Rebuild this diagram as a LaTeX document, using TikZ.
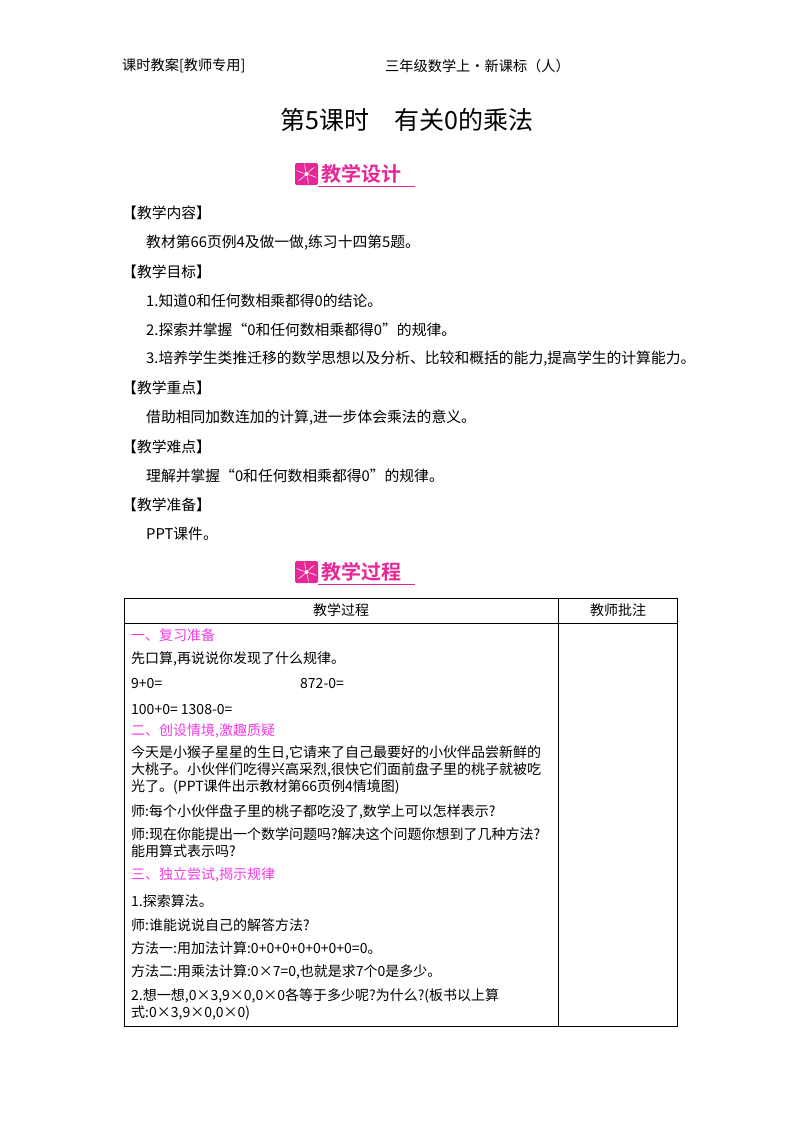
\documentclass[tikz,border=0pt]{standalone}
\usepackage{fontspec}
\setmainfont{Liberation Serif}
\newfontfamily\cjk{Noto Sans CJK SC}
\newfontfamily\cjkb{Noto Sans CJK SC Bold}
\definecolor{mag}{RGB}{230,40,150}
\definecolor{pink}{RGB}{240,60,230}
\begin{document}
\begin{tikzpicture}[x=1pt,y=-1pt,
  t/.style={anchor=west,inner sep=0pt,font=\fontsize{14.8}{20}\selectfont\cjk},
  tt/.style={anchor=west,inner sep=0pt,font=\fontsize{14}{17}\selectfont\cjk},
  h/.style={tt,text=pink},
  badge/.style={anchor=west,inner sep=0pt,font=\fontsize{20}{22}\selectfont\cjkb,text=mag}]
\useasboundingbox (0,0) rectangle (800,1132);
\node[t,font=\fontsize{14.2}{16}\selectfont\cjk] (h1) at (122,66) {课时教案[教师专用]};
\node[t,font=\fontsize{14.2}{16}\selectfont\cjk] (h2) at (385,66) {三年级数学上·新课标（人）};
\node[inner sep=0pt,font=\fontsize{25}{28}\selectfont\cjk] (title) at (407,120) {第5课时\quad 有关0的乘法};
% badges
\foreach \y/\txt/\n in {174/教学设计/b1,572/教学过程/b2}{
  \fill[mag,rounded corners=2pt] (295,\y-11) rectangle (318,\y+11);
  \foreach \a in {0,60,...,300}
    \fill[white,rotate around={\a:(306.5,\y)}] (306.5,\y) .. controls (309,\y-3) and (312,\y-6) .. (315,\y-7) .. controls (311,\y-3) .. (306.5,\y);
  \fill[white] (306.5,\y) circle (2);
  \node[badge] (\n) at (321,\y) {\txt};
  \draw[mag,line width=1pt] (318,\y+12) -- (415,\y+12);
}
\node[t] (s1) at (122,213) {【教学内容】};
\node[t] (l1) at (146,243) {教材第66页例4及做一做,练习十四第5题。};
\node[t] (s2) at (122,272) {【教学目标】};
\node[t] (l2) at (146,301) {1.知道0和任何数相乘都得0的结论。};
\node[t] (l3) at (146,330) {2.探索并掌握“0和任何数相乘都得0”的规律。};
\node[t] (l4) at (146,359) {3.培养学生类推迁移的数学思想以及分析、比较和概括的能力,提高学生的计算能力。};
\node[t] (s3) at (122,388) {【教学重点】};
\node[t] (l5) at (146,418) {借助相同加数连加的计算,进一步体会乘法的意义。};
\node[t] (s4) at (122,447) {【教学难点】};
\node[t] (l6) at (146,476) {理解并掌握“0和任何数相乘都得0”的规律。};
\node[t] (s5) at (122,505) {【教学准备】};
\node[t] (l7) at (146,534) {PPT课件。};
% table
\draw[line width=1pt] (124,598) rectangle (677,1026);
\draw[line width=0.8pt] (124,623) -- (677,623);
\draw[line width=0.8pt] (558,598) -- (558,1026);
\node[tt,anchor=center] (c1) at (341,610) {教学过程};
\node[tt,anchor=center] (c2) at (618,610) {教师批注};
\node[h] (r1) at (131,635) {一、复习准备};
\node[tt] (r2) at (131,659) {先口算,再说说你发现了什么规律。};
\node[tt] (r3) at (131,684) {9+0=};
\node[tt] (r3b) at (300,684) {872-0=};
\node[tt] (r4) at (131,709) {100+0= 1308-0=};
\node[h] (r5) at (131,731) {二、创设情境,激趣质疑};
\node[tt,align=left,anchor=north west] (r6) at (131,745) {今天是小猴子星星的生日,它请来了自己最要好的小伙伴品尝新鲜的\\大桃子。小伙伴们吃得兴高采烈,很快它们面前盘子里的桃子就被吃\\光了。(PPT课件出示教材第66页例4情境图)};
\node[tt] (r7) at (131,812) {师:每个小伙伴盘子里的桃子都吃没了,数学上可以怎样表示?};
\node[tt,align=left,anchor=north west] (r8) at (131,827) {师:现在你能提出一个数学问题吗?解决这个问题你想到了几种方法?\\能用算式表示吗?};
\node[h] (r9) at (131,875) {三、独立尝试,揭示规律};
\node[tt] (r10) at (131,901) {1.探索算法。};
\node[tt] (r11) at (131,925) {师:谁能说说自己的解答方法?};
\node[tt] (r12) at (131,948) {方法一:用加法计算:0+0+0+0+0+0+0=0。};
\node[tt] (r13) at (131,972) {方法二:用乘法计算:0×7=0,也就是求7个0是多少。};
\node[tt,align=left,anchor=north west] (r14) at (131,988) {2.想一想,0×3,9×0,0×0各等于多少呢?为什么?(板书以上算\\式:0×3,9×0,0×0)};
\end{tikzpicture}
\end{document}
